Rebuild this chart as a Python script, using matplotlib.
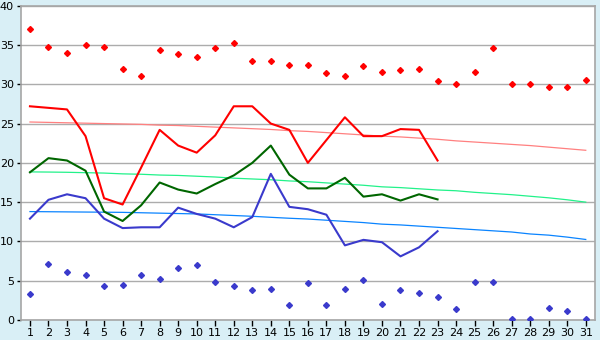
import matplotlib
matplotlib.use("Agg")
from matplotlib import pyplot as plt

# дни месяца
days = list(range(1, 32))
days_part = list(range(1, 24))

# максимумы (красные точки)
t_max = [37.0, 34.8, 34.0, 35.0, 34.7, 31.9, 31.1, 34.4, 33.8, 33.5,
         34.6, 35.2, 33.0, 33.0, 32.4, 32.5, 31.4, 31.0, 32.3, 31.6,
         31.8, 32.0, 30.4, 30.1, 31.6, 34.6, 30.1, 30.1, 29.7, 29.6, 30.6]

# минимумы (синие точки)
t_min = [3.3, 7.1, 6.1, 5.7, 4.3, 4.5, 5.7, 5.2, 6.6, 7.0,
         4.8, 4.3, 3.8, 3.9, 1.9, 4.7, 1.9, 3.9, 5.05, 2.1,
         3.8, 3.4, 2.9, 1.4, 4.9, 4.8, 0.1, 0.1, 1.5, 1.2, 0.1]

# дневные линии (23 дня)
t_high = [27.2, 27.0, 26.8, 23.4, 15.5, 14.7, 19.4, 24.2, 22.2, 21.3,
          23.5, 27.2, 27.2, 25.0, 24.2, 20.0, 22.9, 25.8, 23.4, 23.4,
          24.3, 24.2, 20.3]
t_mean = [18.8, 20.6, 20.3, 19.0, 13.8, 12.6, 14.6, 17.5, 16.6, 16.1,
          17.3, 18.4, 20.0, 22.2, 18.5, 16.75, 16.75, 18.1, 15.7, 16.0,
          15.2, 16.0, 15.35]
t_low = [12.9, 15.3, 16.0, 15.5, 12.9, 11.7, 11.8, 11.8, 14.3, 13.5,
         12.9, 11.8, 13.1, 18.6, 14.4, 14.1, 13.4, 9.5, 10.2, 9.9,
         8.1, 9.25, 11.3]

# тренды (31 день)
trend_high = [25.2, 25.15, 25.1, 25.05, 25.0, 24.95, 24.9, 24.8, 24.75, 24.65,
              24.55, 24.45, 24.35, 24.25, 24.1, 24.0, 23.85, 23.7, 23.55, 23.4,
              23.3, 23.15, 23.0, 22.8, 22.65, 22.5, 22.35, 22.2, 22.0, 21.8, 21.6]
trend_mean = [18.85, 18.83, 18.8, 18.75, 18.7, 18.6, 18.55, 18.45, 18.4, 18.3,
              18.2, 18.05, 17.95, 17.85, 17.7, 17.6, 17.45, 17.3, 17.15, 16.95,
              16.85, 16.7, 16.55, 16.45, 16.25, 16.1, 15.95, 15.75, 15.55, 15.3, 15.0]
trend_low = [13.8, 13.78, 13.76, 13.74, 13.72, 13.7, 13.65, 13.6, 13.55, 13.5,
             13.4, 13.3, 13.2, 13.07, 12.95, 12.85, 12.7, 12.55, 12.4, 12.2,
             12.1, 11.95, 11.8, 11.65, 11.5, 11.35, 11.2, 10.95, 10.8, 10.55, 10.25]

y_ticks = [0, 5, 10, 15, 20, 25, 30, 35, 40]


def main():
    fig = plt.figure(figsize=(6.0, 3.4), dpi=100, facecolor="#d9eff6")
    ax = fig.add_axes([0.0345, 0.0588, 0.9572, 0.9244])
    ax.set_facecolor("white")

    for y in y_ticks:
        ax.axhline(y, color="#acacac", linewidth=1.0, zorder=1)

    ax.plot(days, trend_high, color="#ff8080", linewidth=0.9, zorder=2)
    ax.plot(days, trend_mean, color="#22f28a", linewidth=0.9, zorder=2)
    ax.plot(days, trend_low, color="#0a84ff", linewidth=0.9, zorder=2)

    ax.plot(days_part, t_high, color="#ff0000", linewidth=1.5, zorder=3)
    ax.plot(days_part, t_mean, color="#006600", linewidth=1.5, zorder=3)
    ax.plot(days_part, t_low, color="#3a3acc", linewidth=1.5, zorder=3)

    ax.plot(days, t_max, linestyle="none", marker="D", markersize=3.0,
            color="#ff0000", zorder=4)
    ax.plot(days, t_min, linestyle="none", marker="D", markersize=3.0,
            color="#3a3acc", zorder=4)

    ax.set_xlim(0.5, 31.5)
    ax.set_ylim(0, 40)
    ax.set_xticks(days)
    ax.set_yticks(y_ticks)
    ax.tick_params(axis="both", labelsize=8, colors="black", length=4,
                   width=1.0, pad=2)
    ax.tick_params(axis="y", length=3)
    for s in ax.spines.values():
        s.set_color("#a6a6a6")
        s.set_linewidth(1.2)

    fig.savefig("out.png", dpi=100, facecolor=fig.get_facecolor())


if __name__ == "__main__":
    main()
